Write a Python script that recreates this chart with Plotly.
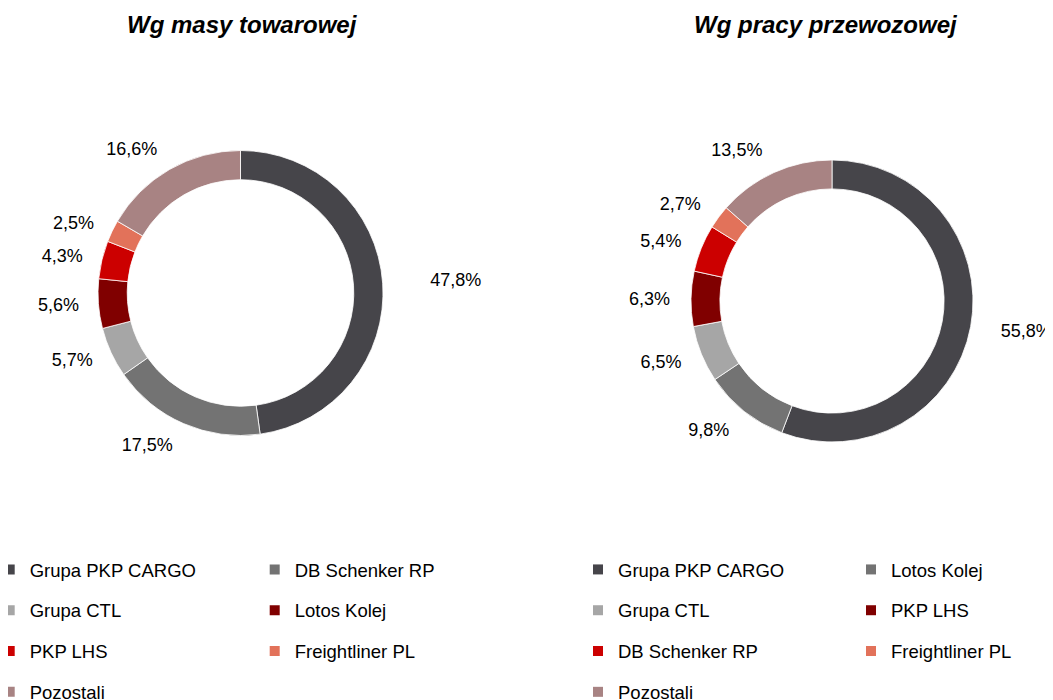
import plotly.graph_objects as go

W, H = 1053, 700

# ---- data ----
titles = ["Wg masy towarowej", "Wg pracy przewozowej"]
mass_labels = ["Grupa PKP CARGO", "DB Schenker RP", "Grupa CTL", "Lotos Kolej",
               "PKP LHS", "Freightliner PL", "Pozostali"]
mass_values = [47.8, 17.5, 5.7, 5.6, 4.3, 2.5, 16.6]
work_labels = ["Grupa PKP CARGO", "Lotos Kolej", "Grupa CTL", "PKP LHS",
               "DB Schenker RP", "Freightliner PL", "Pozostali"]
work_values = [55.8, 9.8, 6.5, 6.3, 5.4, 2.7, 13.5]

# ---- styles / layout (pixels inside the figure) ----
colors = ["#46454A", "#737373", "#A6A6A6", "#800000", "#CC0000", "#E2725A", "#A88383"]
FONT = "Arial, 'Liberation Sans', sans-serif"
label_pull = [[0.18, 0, 0, 0, 0, 0, 0], [0.06, 0, 0, 0, 0, 0, 0]]
ring_geom = [(232.5, 285, 142.5), (824, 293, 141)]   # centre x, centre y, radius
label_r = 157
title_x = [234.5, 818]
title_y = 16
legend_text_x = [(18.7, 283.7), (607, 880)]
legend_top = 542.9
legend_font = 18.5


def dom(cx, cy, r):
    return dict(x=[(cx - r) / W, (cx + r) / W], y=[1 - (cy + r) / H, 1 - (cy - r) / H])


def fmt(v):
    return f"{v:.1f}".replace(".", ",") + "%"


fig = go.Figure()
datasets = [(mass_labels, mass_values), (work_labels, work_values)]

for k, (labels, values) in enumerate(datasets):
    cx, cy, r = ring_geom[k]
    pulls = label_pull[k]
    # invisible pie carrying the outside percentage labels
    fig.add_trace(go.Pie(
        labels=labels, values=values, text=[fmt(v) for v in values],
        textinfo="text", textposition="outside", sort=False, direction="clockwise",
        pull=pulls, domain=dom(cx, cy, label_r * (1 + max(pulls))),
        marker=dict(colors=["rgba(0,0,0,0)"] * len(values), line=dict(width=0)),
        outsidetextfont=dict(family=FONT, size=18, color="#000000"),
        hoverinfo="skip", showlegend=False,
    ))
    # visible donut
    fig.add_trace(go.Pie(
        labels=labels, values=values, hole=0.795, sort=False, direction="clockwise",
        textinfo="none", domain=dom(cx, cy, r),
        marker=dict(colors=colors, line=dict(color="#FFFFFF", width=0.8)),
        showlegend=False, hovertemplate="%{label}: %{value}%<extra></extra>",
    ))

# legend entries: 2 columns per chart, row-major order
item_h = legend_font * 1.3 + 3
legend_layouts = {}
for k, (labels, values) in enumerate(datasets):
    for col in range(2):
        lid = "legend" if (k == 0 and col == 0) else f"legend{k * 2 + col + 1}"
        for i in range(col, len(labels), 2):
            fig.add_trace(go.Scatter(
                x=[None], y=[None], mode="markers", name=labels[i],
                marker=dict(symbol="square", size=10, color=colors[i], line=dict(width=0)),
                legend=lid, legendgroup=f"{lid}-{i}", showlegend=True, hoverinfo="skip",
            ))
        legend_layouts[lid] = dict(
            x=(legend_text_x[k][col] - 37) / W, y=1 - legend_top / H,
            xanchor="left", yanchor="top", orientation="v",
            traceorder="grouped", tracegroupgap=40.8 - item_h,
            font=dict(family=FONT, size=legend_font, color="#000000"),
            bgcolor="rgba(0,0,0,0)", itemclick=False, itemdoubleclick=False,
        )

annotations = []
for k, t in enumerate(titles):
    annotations.append(dict(
        text=f"<b><i>{t}</i></b>", x=title_x[k] / W, y=1 - title_y / H,
        xref="paper", yref="paper", xanchor="center", yanchor="middle",
        showarrow=False, font=dict(family=FONT, size=24, color="#000000"),
    ))

fig.update_layout(
    width=W, height=H,
    margin=dict(l=0, r=0, t=0, b=0, autoexpand=False),
    paper_bgcolor="#FFFFFF", plot_bgcolor="#FFFFFF",
    xaxis=dict(visible=False), yaxis=dict(visible=False),
    annotations=annotations,
    font=dict(family=FONT, color="#000000"),
    **legend_layouts,
)

fig.write_html("out.html")
